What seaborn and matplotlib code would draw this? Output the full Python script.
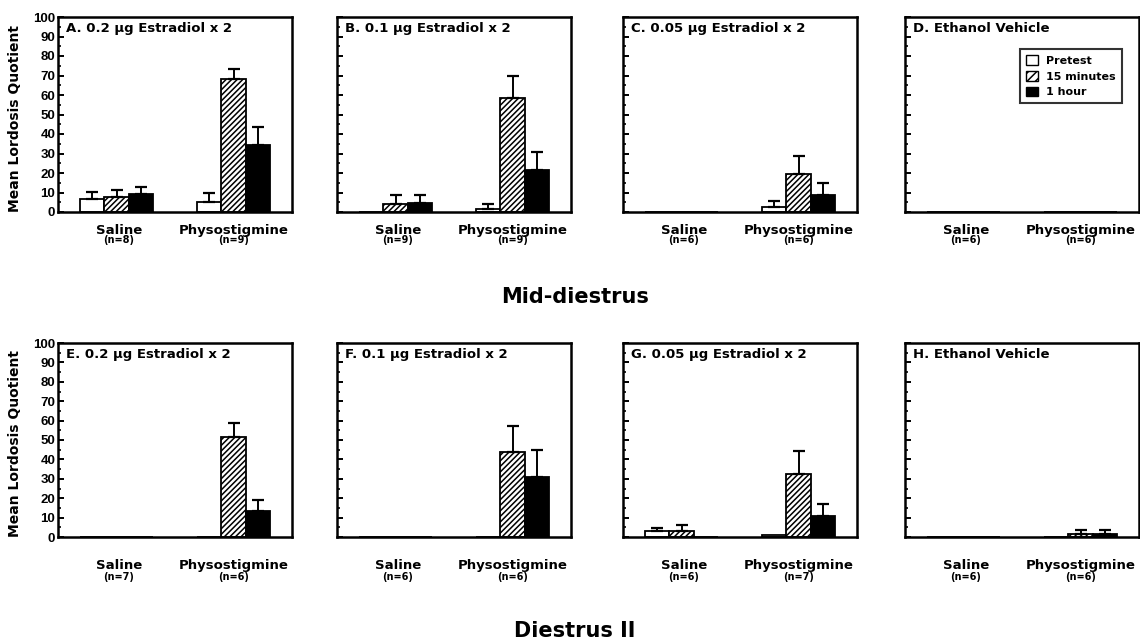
import numpy as np
import pandas as pd
import matplotlib
matplotlib.use('Agg')
import matplotlib.pyplot as plt
import seaborn as sns
from matplotlib.patches import Patch

sns.set_theme(style='ticks')
plt.rcParams['font.family'] = ['DejaVu Sans']
plt.rcParams['font.weight'] = 'bold'
plt.rcParams['hatch.linewidth'] = 1.1
for key in ['text.color', 'axes.labelcolor', 'xtick.color', 'ytick.color', 'axes.edgecolor']:
    plt.rcParams[key] = 'black'

# data
treatments = ['Saline', 'Physostigmine']
times = ['Pretest', '15 minutes', '1 hour']

panel_titles = ['A. 0.2 µg Estradiol x 2', 'B. 0.1 µg Estradiol x 2',
                'C. 0.05 µg Estradiol x 2', 'D. Ethanol Vehicle',
                'E. 0.2 µg Estradiol x 2', 'F. 0.1 µg Estradiol x 2',
                'G. 0.05 µg Estradiol x 2', 'H. Ethanol Vehicle']
n_saline = [8, 9, 6, 6, 7, 6, 6, 6]
n_physo = [9, 9, 6, 6, 6, 6, 7, 6]

# means: [Saline (pre, 15, 1h), Physostigmine (pre, 15, 1h)]
means_A = [[6.5, 7.8, 9.2], [5.3, 68.0, 34.4]]
means_B = [[0.0, 4.3, 4.8], [1.7, 58.7, 21.7]]
means_C = [[0.0, 0.0, 0.0], [2.6, 19.3, 8.9]]
means_D = [[0.0, 0.0, 0.0], [0.0, 0.0, 0.0]]
means_E = [[0.0, 0.0, 0.0], [0.0, 51.4, 13.4]]
means_F = [[0.0, 0.0, 0.0], [0.0, 43.9, 31.0]]
means_G = [[3.0, 3.2, 0.0], [1.0, 32.4, 10.8]]
means_H = [[0.0, 0.0, 0.0], [0.0, 1.8, 1.5]]

# standard errors (upper whiskers only)
sem_A = [[3.9, 3.5, 3.8], [4.3, 5.2, 9.0]]
sem_B = [[0.0, 4.3, 3.8], [2.3, 10.9, 9.1]]
sem_C = [[0.0, 0.0, 0.0], [2.9, 9.3, 6.0]]
sem_D = [[0.0, 0.0, 0.0], [0.0, 0.0, 0.0]]
sem_E = [[0.0, 0.0, 0.0], [0.0, 7.2, 5.5]]
sem_F = [[0.0, 0.0, 0.0], [0.0, 13.3, 13.8]]
sem_G = [[1.6, 2.8, 0.0], [0.0, 11.9, 6.4]]
sem_H = [[0.0, 0.0, 0.0], [0.0, 2.0, 2.2]]

all_means = [means_A, means_B, means_C, means_D, means_E, means_F, means_G, means_H]
all_sems = [sem_A, sem_B, sem_C, sem_D, sem_E, sem_F, sem_G, sem_H]

fig = plt.figure(figsize=(11.4, 6.43), dpi=100)
W, H = 1140, 643
lefts = [58, 337, 623, 905]
ax_w = 234
rows = [(212, 195), (537, 194)]   # (bottom px from top, height px)
label_off = [(13, 20.5), (20.5, 29)]

bar_colors = {'Pretest': 'white', '15 minutes': 'white', '1 hour': 'black'}

for i in range(8):
    r, c = divmod(i, 4)
    bot, hgt = rows[r]
    ax = fig.add_axes([lefts[c] / W, (H - bot) / H, ax_w / W, hgt / H])

    df = pd.DataFrame([
        {'treatment': treatments[t], 'time': times[k],
         'value': all_means[i][t][k], 'sem': all_sems[i][t][k]}
        for t in range(2) for k in range(3)
    ])
    sns.barplot(data=df, x='treatment', y='value', hue='time',
                order=treatments, hue_order=times, palette=bar_colors,
                edgecolor='black', linewidth=1.3, width=0.63,
                errorbar=None, legend=False, ax=ax)

    bar_conts = list(ax.containers)
    for k, cont in enumerate(bar_conts):
        for bar in cont:
            if times[k] == '15 minutes':
                bar.set_hatch('//////')
            xc = bar.get_x() + bar.get_width() / 2
            t = int(round(xc))
            e = all_sems[i][t][k]
            if e > 0:
                ax.errorbar(xc, bar.get_height(), yerr=[[0], [e]], fmt='none',
                            ecolor='black', elinewidth=1.4, capsize=4,
                            capthick=1.6, zorder=1)

    ax.set_xlim(-0.5, 1.5)
    ax.set_ylim(0, 100)
    ax.set_yticks(np.arange(0, 101, 10))
    ax.set_yticks(np.arange(5, 100, 10), minor=True)
    ax.tick_params(axis='y', which='major', direction='in', length=4, width=1.4,
                   labelsize=9.5, pad=2)
    ax.tick_params(axis='y', which='minor', direction='in', length=2.5, width=1.2)
    for lab in ax.get_yticklabels():
        lab.set_fontfamily('Liberation Sans')
        lab.set_fontweight('bold')
    ax.set_xticks([])
    ax.set_xlabel('')
    if c == 0:
        ax.set_ylabel('Mean Lordosis Quotient', fontsize=10, fontweight='bold')
        ax.yaxis.set_label_coords(-0.155, 0.48)
    else:
        ax.set_ylabel('')
        ax.set_yticklabels([])
    for s in ax.spines.values():
        s.set_linewidth(1.8)
        s.set_color('black')

    ax.text(0.035, 0.975, panel_titles[i], transform=ax.transAxes,
            ha='left', va='top', fontsize=9.5, fontweight='bold')

    off1, off2 = label_off[r]
    ns = [n_saline[i], n_physo[i]]
    for t, xpos in enumerate([0.02, 1.0]):
        ax.annotate(treatments[t], xy=(xpos, 0), xycoords=('data', 'axes fraction'),
                    xytext=(0, -off1), textcoords='offset points',
                    ha='center', va='center', fontsize=9.5, fontweight='bold',
                    annotation_clip=False)
        ax.annotate(f'(n={ns[t]})', xy=(xpos, 0), xycoords=('data', 'axes fraction'),
                    xytext=(0, -off2), textcoords='offset points',
                    ha='center', va='center', fontsize=7, fontweight='bold',
                    annotation_clip=False)

    if i == 3:
        handles = [Patch(facecolor='white', edgecolor='black', label='Pretest'),
                   Patch(facecolor='white', edgecolor='black', hatch='////',
                         label='15 minutes'),
                   Patch(facecolor='black', edgecolor='black', label='1 hour')]
        leg = ax.legend(handles=handles, loc='upper right',
                        bbox_to_anchor=(0.952, 0.865), fontsize=8,
                        frameon=True, fancybox=False, handlelength=1.0,
                        handleheight=1.0, handletextpad=0.8, labelspacing=0.45,
                        borderpad=0.55)
        leg.get_frame().set_edgecolor('black')
        leg.get_frame().set_linewidth(1.5)

fig.text(575 / W, 1 - 297 / H, 'Mid-diestrus', ha='center', va='center',
         fontsize=15, fontweight='bold')
fig.text(575 / W, 1 - 631 / H, 'Diestrus II', ha='center', va='center',
         fontsize=15, fontweight='bold')

fig.savefig('out.png', dpi=100)
